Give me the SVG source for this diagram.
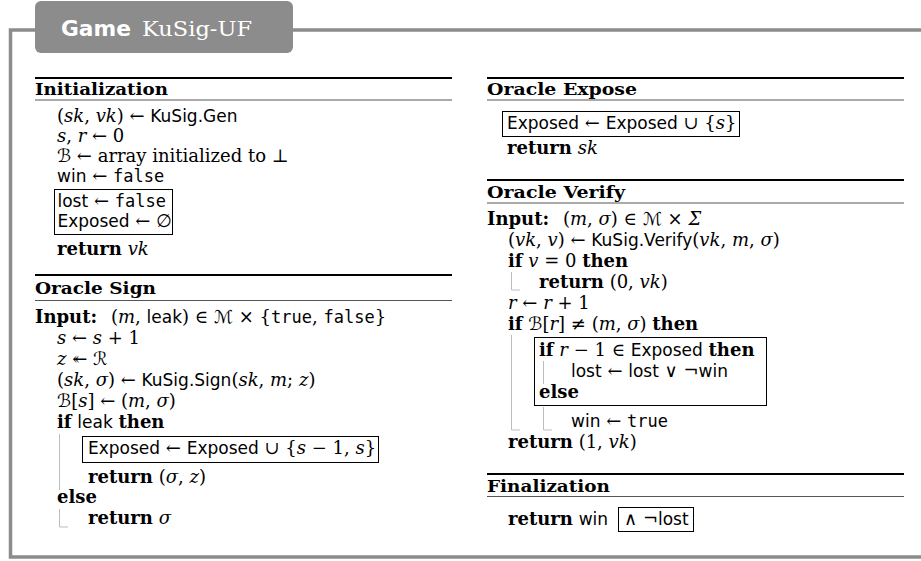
<svg xmlns="http://www.w3.org/2000/svg" width="921" height="561" viewBox="0 0 921 561">
<style>
text{font-family:"DejaVu Serif","DejaVu Sans",serif;font-size:18px;fill:#000}
.it{font-style:italic}
.bf{font-weight:bold}
.sf{font-family:"DejaVu Sans",sans-serif;font-size:17px}
.tt{font-family:"DejaVu Sans Mono",monospace;font-size:17px}
.h{font-weight:bold;font-size:17px}
.top{stroke:#000;stroke-width:2}
.bot{stroke:#555;stroke-width:1}
.box{fill:none;stroke:#000;stroke-width:1}
.guide{fill:none;stroke:#bdbdbd;stroke-width:1}
.frame{fill:none;stroke:#8c8c8c;stroke-width:3.5}
</style>
<g id="frame">
<path class="frame" d="M921,30 H10.5 V557 H921"/>
<rect x="35" y="1" width="258" height="52" rx="6" fill="#8c8c8c"/>
<text x="61" y="36" textLength="70" lengthAdjust="spacingAndGlyphs" style="font-family:'DejaVu Sans',sans-serif;font-weight:bold;font-size:21px;fill:#fff">Game</text>
<text x="142" y="36" textLength="110" lengthAdjust="spacingAndGlyphs" style="font-size:21px;fill:#fff">KuSig-UF</text>
</g>
<g id="initialization">
<line class="top" x1="35" x2="452" y1="78" y2="78"/>
<text x="35" y="95" class="h" textLength="133" lengthAdjust="spacingAndGlyphs">Initialization</text>
<line class="bot" x1="35" x2="452" y1="100" y2="100"/>
<text x="57" y="122">(<tspan class="it">sk</tspan>, <tspan class="it">vk</tspan>) ← <tspan class="sf">KuSig.Gen</tspan></text>
<text x="57" y="142"><tspan class="it">s</tspan>, <tspan class="it">r</tspan> ← 0</text>
<text x="57" y="162">ℬ ← array initialized to ⊥</text>
<text x="57" y="182"><tspan class="sf">win</tspan> ← <tspan class="tt">false</tspan></text>
<rect class="box" x="54.5" y="189.5" width="118" height="45"/>
<text x="57.5" y="207"><tspan class="sf">lost</tspan> ← <tspan class="tt">false</tspan></text>
<text x="57.5" y="227"><tspan class="sf">Exposed</tspan> ← ∅</text>
<text x="57" y="255"><tspan class="bf">return</tspan> <tspan class="it">vk</tspan></text>
</g>
<g id="oracle-sign">
<line class="top" x1="35" x2="452" y1="275" y2="275"/>
<text x="35" y="294" class="h" textLength="121" lengthAdjust="spacingAndGlyphs">Oracle Sign</text>
<line class="bot" x1="35" x2="452" y1="300.5" y2="300.5"/>
<text x="35" y="322.5"><tspan class="bf">Input:</tspan> <tspan x="111">(</tspan><tspan class="it">m</tspan>, <tspan class="sf">leak</tspan>) ∈ ℳ × {<tspan class="tt">true</tspan>, <tspan class="tt">false</tspan>}</text>
<text x="57" y="344"><tspan class="it">s</tspan> ← <tspan class="it">s</tspan> + 1</text>
<text x="57" y="365"><tspan class="it">z</tspan> ↞ ℛ</text>
<text x="57" y="386">(<tspan class="it">sk</tspan>, <tspan class="it">σ</tspan>) ← <tspan class="sf">KuSig.Sign</tspan>(<tspan class="it">sk</tspan>, <tspan class="it">m</tspan>; <tspan class="it">z</tspan>)</text>
<text x="57" y="407">ℬ[<tspan class="it">s</tspan>] ← (<tspan class="it">m</tspan>, <tspan class="it">σ</tspan>)</text>
<text x="57" y="428"><tspan class="bf">if</tspan> <tspan class="sf">leak</tspan> <tspan class="bf">then</tspan></text>
<rect class="box" x="82.5" y="436.5" width="296" height="26"/>
<text x="88" y="454"><tspan class="sf">Exposed</tspan> ← <tspan class="sf">Exposed</tspan> ∪ {<tspan class="it">s</tspan> − 1, <tspan class="it">s</tspan>}</text>
<text x="88" y="483"><tspan class="bf">return</tspan> (<tspan class="it">σ</tspan>, <tspan class="it">z</tspan>)</text>
<text x="57" y="503" class="bf">else</text>
<text x="88" y="524"><tspan class="bf">return</tspan> <tspan class="it">σ</tspan></text>
</g>
<g id="oracle-expose">
<line class="top" x1="487" x2="904" y1="78" y2="78"/>
<text x="487" y="95" class="h" textLength="150" lengthAdjust="spacingAndGlyphs">Oracle Expose</text>
<line class="bot" x1="487" x2="904" y1="100" y2="100"/>
<rect class="box" x="502.5" y="111.5" width="237" height="25"/>
<text x="507" y="129"><tspan class="sf">Exposed</tspan> ← <tspan class="sf">Exposed</tspan> ∪ {<tspan class="it">s</tspan>}</text>
<text x="507" y="154"><tspan class="bf">return</tspan> <tspan class="it">sk</tspan></text>
</g>
<g id="oracle-verify">
<line class="top" x1="487" x2="904" y1="180" y2="180"/>
<text x="487" y="198" class="h" textLength="138" lengthAdjust="spacingAndGlyphs">Oracle Verify</text>
<line class="bot" x1="487" x2="904" y1="203" y2="203"/>
<text x="487" y="224.5"><tspan class="bf">Input:</tspan> <tspan x="563">(</tspan><tspan class="it">m</tspan>, <tspan class="it">σ</tspan>) ∈ ℳ × <tspan class="it">Σ</tspan></text>
<text x="508" y="245.5">(<tspan class="it">vk</tspan>, <tspan class="it">v</tspan>) ← <tspan class="sf">KuSig.Verify</tspan>(<tspan class="it">vk</tspan>, <tspan class="it">m</tspan>, <tspan class="it">σ</tspan>)</text>
<text x="508" y="266.5"><tspan class="bf">if</tspan> <tspan class="it">v</tspan> = 0 <tspan class="bf">then</tspan></text>
<text x="539" y="287.5"><tspan class="bf">return</tspan> (0, <tspan class="it">vk</tspan>)</text>
<text x="508" y="308.5"><tspan class="it">r</tspan> ← <tspan class="it">r</tspan> + 1</text>
<text x="508" y="329.5"><tspan class="bf">if</tspan> ℬ[<tspan class="it">r</tspan>] ≠ (<tspan class="it">m</tspan>, <tspan class="it">σ</tspan>) <tspan class="bf">then</tspan></text>
<rect class="box" x="534.5" y="337.5" width="232" height="68"/>
<text x="539" y="355.5"><tspan class="bf">if</tspan> <tspan class="it">r</tspan> − 1 ∈ <tspan class="sf">Exposed</tspan> <tspan class="bf">then</tspan></text>
<text x="571" y="376.5"><tspan class="sf">lost</tspan> ← <tspan class="sf">lost</tspan> ∨ ¬<tspan class="sf">win</tspan></text>
<text x="539" y="397.5" class="bf">else</text>
<text x="571" y="426.5"><tspan class="sf">win</tspan> ← <tspan class="tt">true</tspan></text>
<text x="508" y="447.5"><tspan class="bf">return</tspan> (1, <tspan class="it">vk</tspan>)</text>
</g>
<g id="finalization">
<line class="top" x1="487" x2="904" y1="474" y2="474"/>
<text x="487" y="492" class="h" textLength="123" lengthAdjust="spacingAndGlyphs">Finalization</text>
<line class="bot" x1="487" x2="904" y1="496.5" y2="496.5"/>
<text x="508" y="525"><tspan class="bf">return</tspan> <tspan class="sf">win</tspan></text>
<rect class="box" x="618.5" y="507.5" width="75" height="24"/>
<text x="624" y="525">∧ ¬<tspan class="sf">lost</tspan></text>
</g>
<g id="connectors">
<path class="guide" d="M59.5,434 V490"/>
<path class="guide" d="M59.5,509 V527 H68"/>
<path class="guide" d="M511.5,272 V290 H520"/>
<path class="guide" d="M511.5,335 V430 H520"/>
<path class="guide" d="M543.5,361 V384"/>
<path class="guide" d="M543.5,407 V430 H552"/>
</g>
</svg>
